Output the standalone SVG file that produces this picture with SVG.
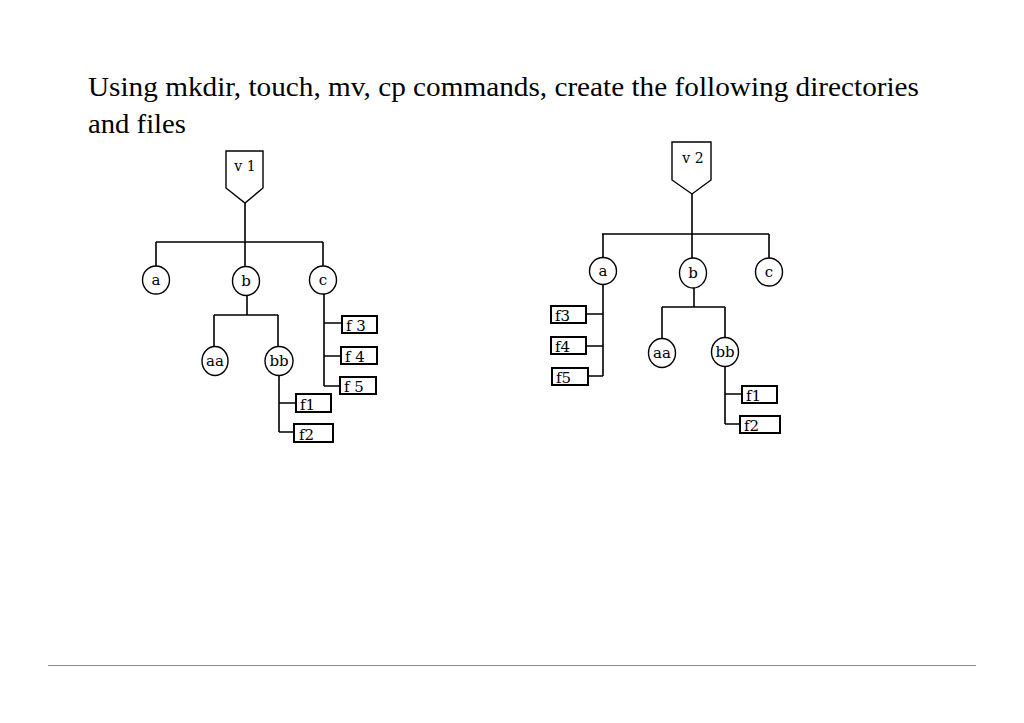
<svg xmlns="http://www.w3.org/2000/svg" width="1024" height="723" viewBox="0 0 1024 723">
<style>
.ln{stroke:#000;stroke-width:1.6;fill:none}
.nd{fill:#fff;stroke:#000;stroke-width:1.4}
.bx{fill:#fff;stroke:#000;stroke-width:2}
.lb{font-family:"DejaVu Serif","Liberation Serif",serif;font-size:15px;fill:#000}
.sm{font-family:"DejaVu Serif","Liberation Serif",serif;font-size:14px;fill:#000}
.c{text-anchor:middle}
.title{font-family:"Liberation Serif",serif;font-size:27px;fill:#000}
</style>
<rect width="1024" height="723" fill="#fff"/>
<text class="title" x="88" y="96" textLength="831" lengthAdjust="spacingAndGlyphs">Using mkdir, touch, mv, cp commands, create the following directories</text>
<text class="title" x="88" y="133" textLength="98" lengthAdjust="spacingAndGlyphs">and files</text>
<line x1="48" y1="665.5" x2="976" y2="665.5" stroke="#8a8a8a" stroke-width="1.2"/>

<g id="connectors">
<path class="ln" d="M245,203V267M156,242H323M156,242V266M323,242V266"/>
<path class="ln" d="M247,295V315M214,315H278M214,315V347M278,315V346"/>
<path class="ln" d="M279,375V432M279,403H296M279,432H294"/>
<path class="ln" d="M324,294V386M324,323H342M324,356H341M324,386H340"/>
<path class="ln" d="M692,194V258M602,234H769M603,234V258M769,234V258"/>
<path class="ln" d="M603,285V376M586,314H603M586,346H603M588,376H603"/>
<path class="ln" d="M694,288V307M662,307H725M662,307V339M725,307V338"/>
<path class="ln" d="M725,366V424M725,394H742M725,424H740"/>
</g>

<g id="v1"><polygon class="nd" points="226,151 263,151 263,188 245,203 226,188"/><text class="sm c" x="245" y="171">v 1</text></g>
<g id="a1"><ellipse class="nd" cx="156" cy="280" rx="13.5" ry="14"/><text class="lb c" x="156" y="285">a</text></g>
<g id="b1"><ellipse class="nd" cx="246" cy="281" rx="13.5" ry="14.5"/><text class="lb c" x="246" y="286">b</text></g>
<g id="c1"><ellipse class="nd" cx="323" cy="280" rx="13.5" ry="14"/><text class="lb c" x="323" y="285">c</text></g>
<g id="aa1"><ellipse class="nd" cx="215" cy="361" rx="13" ry="14.5"/><text class="lb c" x="215" y="366">aa</text></g>
<g id="bb1"><ellipse class="nd" cx="279" cy="361" rx="14" ry="14.5"/><text class="lb c" x="279" y="366">bb</text></g>
<g id="f1_1"><rect class="bx" x="296" y="394" width="35" height="18"/><text class="lb" x="300" y="410">f1</text></g>
<g id="f2_1"><rect class="bx" x="294" y="424" width="39" height="18"/><text class="lb" x="299" y="440">f2</text></g>
<g id="f3_1"><rect class="bx" x="342" y="316" width="35" height="17"/><text class="lb" x="346" y="331">f 3</text></g>
<g id="f4_1"><rect class="bx" x="341" y="347" width="36" height="17"/><text class="lb" x="345" y="362">f 4</text></g>
<g id="f5_1"><rect class="bx" x="340" y="377" width="36" height="17"/><text class="lb" x="344" y="392">f 5</text></g>

<g id="v2"><polygon class="nd" points="672,142 711,142 711,180 692,194 672,180"/><text class="sm c" x="693" y="163">v 2</text></g>
<g id="a2"><ellipse class="nd" cx="603" cy="271" rx="13.5" ry="13.5"/><text class="lb c" x="603" y="276">a</text></g>
<g id="b2"><ellipse class="nd" cx="693" cy="273" rx="13.5" ry="15"/><text class="lb c" x="693" y="278">b</text></g>
<g id="c2"><ellipse class="nd" cx="769" cy="272" rx="13.5" ry="14"/><text class="lb c" x="769" y="277">c</text></g>
<g id="aa2"><ellipse class="nd" cx="662" cy="353" rx="13.5" ry="14.5"/><text class="lb c" x="662" y="358">aa</text></g>
<g id="bb2"><ellipse class="nd" cx="725" cy="352" rx="13.5" ry="14.5"/><text class="lb c" x="725" y="357">bb</text></g>
<g id="f3_2"><rect class="bx" x="551" y="306" width="35" height="17"/><text class="lb" x="555" y="321">f3</text></g>
<g id="f4_2"><rect class="bx" x="551" y="337" width="35" height="17"/><text class="lb" x="555" y="352">f4</text></g>
<g id="f5_2"><rect class="bx" x="552" y="368" width="36" height="17"/><text class="lb" x="556" y="383">f5</text></g>
<g id="f1_2"><rect class="bx" x="742" y="386" width="35" height="17"/><text class="lb" x="746" y="401">f1</text></g>
<g id="f2_2"><rect class="bx" x="740" y="416" width="40" height="17"/><text class="lb" x="744" y="431">f2</text></g>
</svg>
